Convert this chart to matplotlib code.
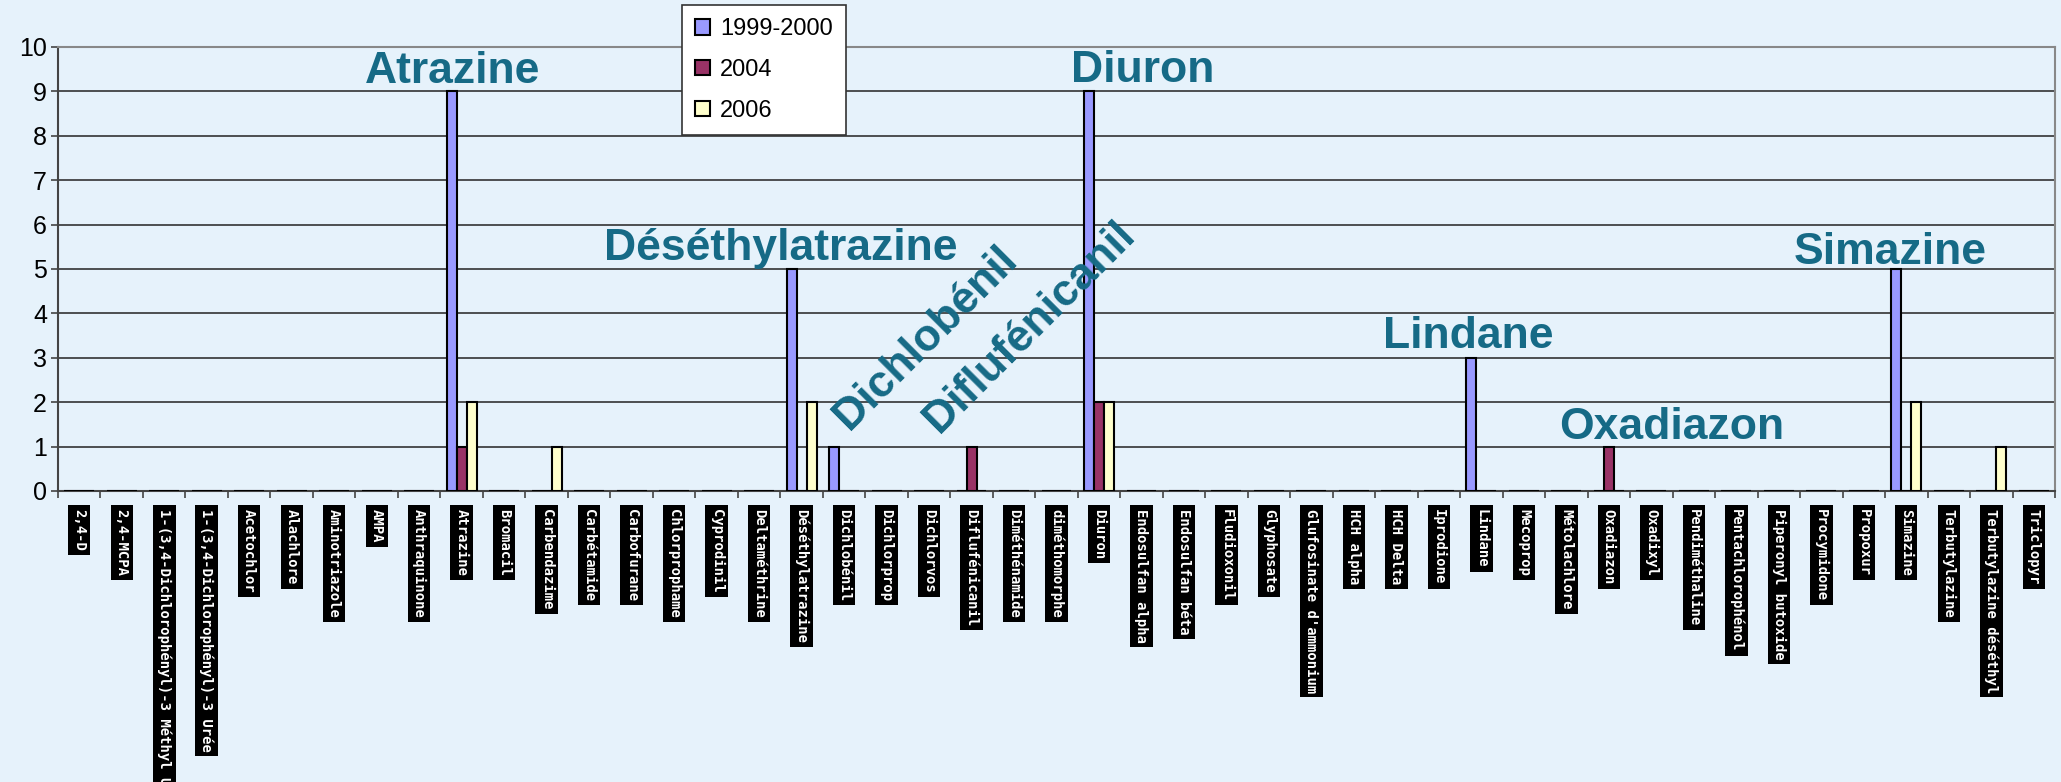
import numpy as np
import matplotlib
matplotlib.use('Agg')
import matplotlib.pyplot as plt

substances = ['2,4-D', '2,4-MCPA', '1-(3,4-Dichlorophényl)-3 Méthyl Urée',
              '1-(3,4-Dichlorophényl)-3 Urée', 'Acetochlor', 'Alachlore',
              'Aminotriazole', 'AMPA', 'Anthraquinone', 'Atrazine', 'Bromacil',
              'Carbendazime', 'Carbétamide', 'Carbofurane', 'Chlorprophame',
              'Cyprodinil', 'Deltaméthrine', 'Déséthylatrazine', 'Dichlobénil',
              'Dichlorprop', 'Dichlorvos', 'Diflufénicanil', 'Diméthénamide',
              'diméthomorphe', 'Diuron', 'Endosulfan alpha', 'Endosulfan béta',
              'Fludioxonil', 'Glyphosate', "Glufosinate d'ammonium", 'HCH alpha',
              'HCH Delta', 'Iprodione', 'Lindane', 'Mecoprop', 'Métolachlore',
              'Oxadiazon', 'Oxadixyl', 'Pendiméthaline', 'Pentachlorophénol',
              'Piperonyl butoxide', 'Procymidone', 'Propoxur', 'Simazine',
              'Terbutylazine', 'Terbutylazine déséthyl', 'Triclopyr']

v_1999 = [0, 0, 0, 0, 0, 0, 0, 0, 0, 9, 0, 0, 0, 0, 0, 0, 0, 5, 1, 0, 0, 0, 0, 0,
          9, 0, 0, 0, 0, 0, 0, 0, 0, 3, 0, 0, 0, 0, 0, 0, 0, 0, 0, 5, 0, 0, 0]
v_2004 = [0, 0, 0, 0, 0, 0, 0, 0, 0, 1, 0, 0, 0, 0, 0, 0, 0, 0, 0, 0, 0, 1, 0, 0,
          2, 0, 0, 0, 0, 0, 0, 0, 0, 0, 0, 0, 1, 0, 0, 0, 0, 0, 0, 0, 0, 0, 0]
v_2006 = [0, 0, 0, 0, 0, 0, 0, 0, 0, 2, 0, 1, 0, 0, 0, 0, 0, 2, 0, 0, 0, 0, 0, 0,
          2, 0, 0, 0, 0, 0, 0, 0, 0, 0, 0, 0, 0, 0, 0, 0, 0, 0, 0, 2, 0, 1, 0]
series_names = ['1999-2000', '2004', '2006']

# text, x, y
notes = [('Atrazine', 8.78, 9.19), ('Diuron', 25.03, 9.21),
         ('Déséthylatrazine', 16.52, 5.2), ('Lindane', 32.68, 3.22),
         ('Oxadiazon', 37.48, 1.17), ('Simazine', 42.63, 5.11)]
rot_notes = [('Dichlobénil', 19.92, 3.45), ('Diflufénicanil', 22.37, 3.69)]

bg = '#e6f2fb'
teal = '#166a86'
colors = ['#9999ff', '#993366', '#ffffcc']

plt.rcParams['font.family'] = ['Liberation Sans', 'DejaVu Sans']

fig = plt.figure(figsize=(20.61, 7.82), dpi=100, facecolor=bg)
ax = fig.add_axes([58 / 2061, 1 - 491 / 782, (2055 - 58) / 2061, (491 - 47) / 782])
ax.set_facecolor(bg)

x = np.arange(len(substances))
w = 0.235
for i, (vals, name) in enumerate(zip([v_1999, v_2004, v_2006], series_names)):
    ax.bar(x + (i - 1) * w, vals, width=w, color=colors[i], edgecolor='black',
           linewidth=1.5, label=name, zorder=3)

ax.set_xlim(-0.5, len(substances) - 0.5)
ax.set_ylim(0, 10)
ax.set_yticks(range(0, 11))
ax.yaxis.grid(True, color='#333333', linewidth=1.2, zorder=0)
ax.tick_params(axis='y', labelsize=18, length=5, width=1.2, color='#444444', pad=3)

# labels at the centres, ticks on the category boundaries
ax.set_xticks(x)
ax.set_xticks(np.arange(-0.5, len(substances)), minor=True)
ax.tick_params(axis='x', which='major', length=0, pad=13)
ax.tick_params(axis='x', which='minor', length=5, width=1.2, color='#444444')
ax.set_xticklabels(substances, rotation=-90, fontsize=10, family='DejaVu Sans Mono',
                   fontweight='bold', color='white', va='top', ha='center')
for t in ax.get_xticklabels():
    t.set_bbox(dict(facecolor='black', edgecolor='none', pad=3))

for s in ['left', 'bottom']:
    ax.spines[s].set_color('#444444')
    ax.spines[s].set_linewidth(1.5)
for s in ['top', 'right']:
    ax.spines[s].set_color('#888888')
    ax.spines[s].set_linewidth(1.5)

for txt, tx, ty in notes:
    ax.text(tx, ty, txt, ha='center', va='baseline', fontsize=32,
            fontweight='bold', color=teal, zorder=4)
for txt, tx, ty in rot_notes:
    ax.text(tx, ty, txt, ha='center', va='center', rotation=45, rotation_mode='anchor',
            fontsize=32, fontweight='bold', color=teal, zorder=4)

leg = fig.legend(loc='upper left', bbox_to_anchor=(682 / 2061, 1 - 5 / 782),
                 fontsize=17, frameon=True, fancybox=False, framealpha=1,
                 handlelength=0.65, handleheight=0.65, handletextpad=0.4,
                 labelspacing=0.8, borderpad=0.55, borderaxespad=0)
leg.get_frame().set_edgecolor('#333333')
leg.get_frame().set_linewidth(1.2)
leg.set_zorder(10)

fig.savefig('out.png', dpi=100, facecolor=bg)
